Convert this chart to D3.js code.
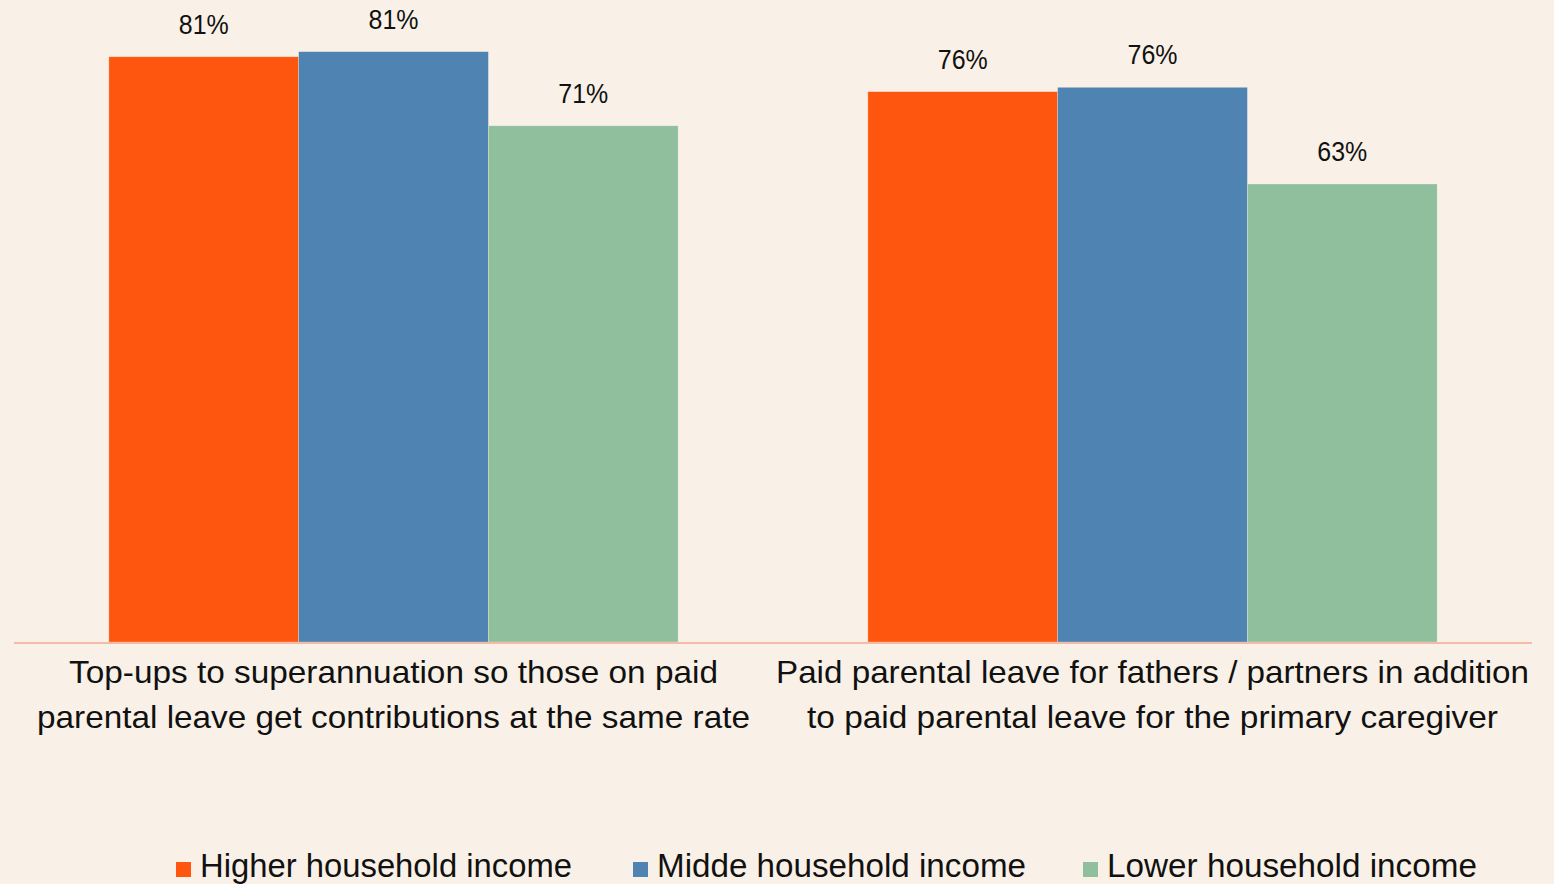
<!DOCTYPE html>
<html>
<head>
<meta charset="utf-8">
<script src="https://cdn.jsdelivr.net/npm/d3@7"></script>
<style>
  html, body { margin: 0; padding: 0; background: #F9F1E7; }
  svg { display: block; }
  text { font-family: "Liberation Sans", Arial, sans-serif; fill: #111; }
</style>
</head>
<body>
<svg id="chart" width="1554" height="884"></svg>
<script>
const categories = [
  ["Top-ups to superannuation so those on paid", "parental leave get contributions at the same rate"],
  ["Paid parental leave for fathers / partners in addition", "to paid parental leave for the primary caregiver"]
];
const seriesNames = ["Higher household income", "Midde household income", "Lower household income"];
const seriesColors = ["#FF560F", "#4F83B1", "#8FBF9D"];
const higher = [80.5, 75.7];
const middle = [81.2, 76.3];
const lower = [71.0, 63.0];
const labelsHigher = ["81%", "76%"];
const labelsMiddle = ["81%", "76%"];
const labelsLower = ["71%", "63%"];

const values = [higher, middle, lower];
const labels = [labelsHigher, labelsMiddle, labelsLower];

const svg = d3.select("#chart");
svg.append("rect").attr("width", 1554).attr("height", 884).attr("fill", "#F9F1E7");

const x0 = d3.scaleBand().domain([0, 1]).range([14, 1532]).paddingInner(0.25).paddingOuter(0.125);
const x1 = d3.scaleBand().domain([0, 1, 2]).range([0, x0.bandwidth()]);
const y = d3.scaleLinear().domain([0, 100]).range([642, -85]);

const g = svg.append("g");
categories.forEach((cat, ci) => {
  values.forEach((ser, si) => {
    const v = ser[ci];
    const bx = x0(ci) + x1(si);
    g.append("rect")
      .attr("x", bx).attr("y", y(v))
      .attr("width", x1.bandwidth()).attr("height", y(0) - y(v))
      .attr("fill", seriesColors[si])
      .attr("stroke", "#F9F1E7").attr("stroke-width", 0.6).attr("stroke-opacity", 0.5);
    g.append("text")
      .attr("x", bx + x1.bandwidth() / 2).attr("y", y(v) - 23)
      .attr("text-anchor", "middle").attr("font-size", 27)
      .attr("textLength", 50).attr("lengthAdjust", "spacingAndGlyphs")
      .text(labels[si][ci]);
  });
});

// axis line
svg.append("line").attr("x1", 14).attr("x2", 1532).attr("y1", y(0) + 1).attr("y2", y(0) + 1)
  .attr("stroke", "#F4BBA6").attr("stroke-width", 2);

// category labels
const catWidths = [[649, 713], [753, 691]];
categories.forEach((cat, ci) => {
  const cx = x0(ci) + x0.bandwidth() / 2;
  cat.forEach((line, li) => {
    svg.append("text")
      .attr("x", cx).attr("y", 683 + li * 45)
      .attr("text-anchor", "middle").attr("font-size", 31.5)
      .attr("textLength", catWidths[ci][li]).attr("lengthAdjust", "spacingAndGlyphs")
      .text(line);
  });
});

// legend
const legX = [176, 633, 1083];
const legW = [372, 369, 370];
seriesNames.forEach((name, i) => {
  svg.append("rect").attr("x", legX[i]).attr("y", 862).attr("width", 15).attr("height", 15)
    .attr("fill", seriesColors[i]);
  svg.append("text").attr("x", legX[i] + 24).attr("y", 877)
    .attr("font-size", 34)
    .attr("textLength", legW[i]).attr("lengthAdjust", "spacingAndGlyphs")
    .text(name);
});
</script>
</body>
</html>
